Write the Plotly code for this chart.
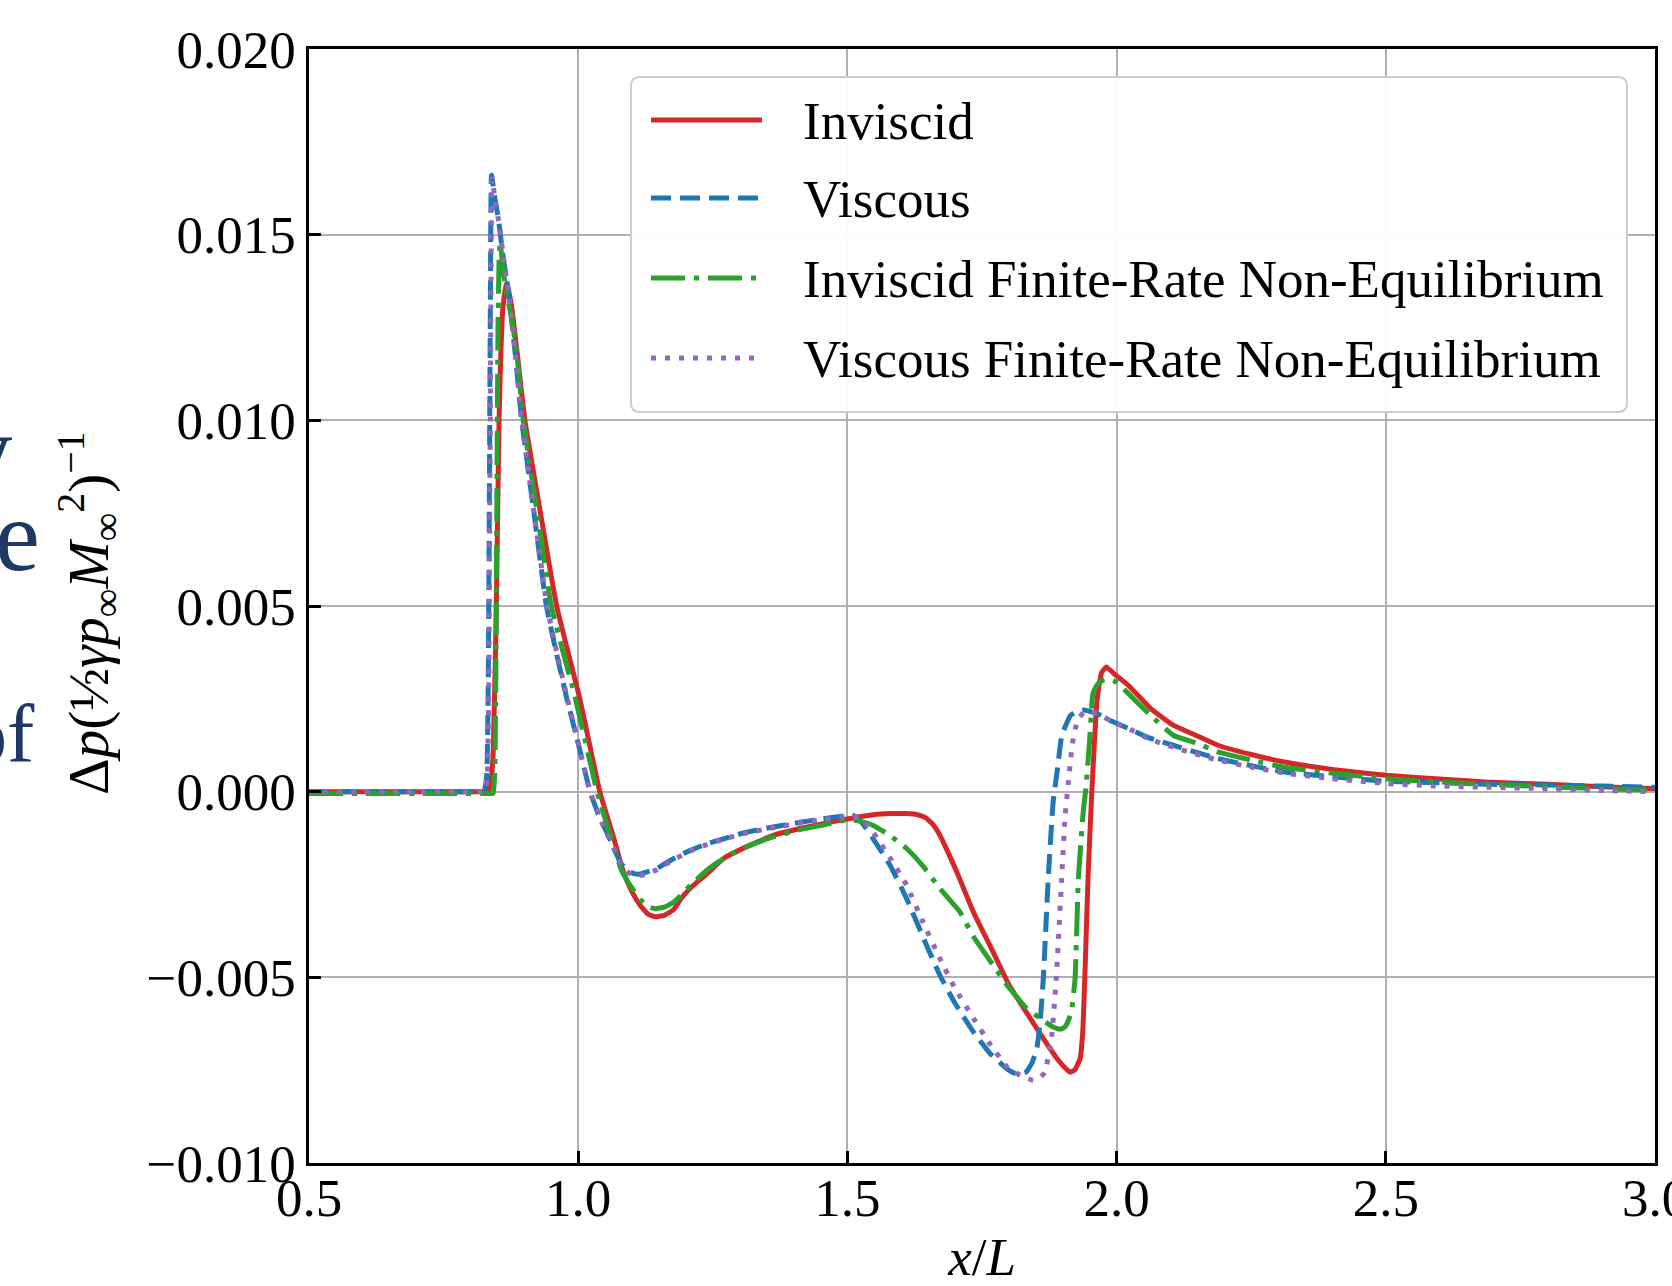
import plotly.graph_objects as go

# ---------------- data ----------------
x_inv = [0.50, 0.60, 0.70, 0.78, 0.82, 0.832, 0.838, 0.842, 0.848, 0.853, 0.860, 0.867, 0.876, 0.886, 0.901,
         0.93, 0.96, 1.003, 1.04, 1.065, 1.084, 1.100, 1.115, 1.130, 1.143, 1.160, 1.177, 1.19, 1.208, 1.24,
         1.27, 1.31, 1.362, 1.41, 1.455, 1.502, 1.548, 1.58, 1.61, 1.63, 1.645, 1.66, 1.672, 1.703, 1.734,
         1.77, 1.80, 1.835, 1.864, 1.89, 1.905, 1.913, 1.922, 1.932, 1.937, 1.941, 1.947, 1.954, 1.964,
         1.972, 1.981, 1.995, 2.022, 2.064, 2.105, 2.15, 2.188, 2.25, 2.312, 2.40, 2.5, 2.6, 2.686, 2.8,
         2.9, 3.0]
y_inv = [0.0, 0.0, 0.0, 0.0, 0.0, 0.0, 0.0003, 0.001, 0.005, 0.010, 0.0130, 0.0137, 0.0131, 0.0119, 0.0100,
         0.0075, 0.0050, 0.0025, 0.0, -0.0012, -0.00216, -0.0027, -0.00306, -0.0033, -0.00337, -0.00333,
         -0.00318, -0.0029, -0.0026, -0.0022, -0.0018, -0.0015, -0.00118, -0.0010, -0.00086, -0.00073,
         -0.00062, -0.00059, -0.00059, -0.00062, -0.0007, -0.0009, -0.00118, -0.00216, -0.00324, -0.0043,
         -0.0052, -0.0060, -0.00665, -0.0072, -0.00745, -0.00755, -0.0075, -0.0072, -0.0065, -0.0050,
         -0.0023, 0.0, 0.0025, 0.0032, 0.00336, 0.00318, 0.00286, 0.00223, 0.00179, 0.0015, 0.00125,
         0.0010, 0.0008, 0.0006, 0.00044, 0.00034, 0.00026, 0.0002, 0.00013, 0.00008]

x_visc = [0.50, 0.60, 0.70, 0.78, 0.815, 0.825, 0.830, 0.833, 0.835, 0.837, 0.839, 0.845, 0.852, 0.861,
          0.870, 0.883, 0.895, 0.918, 0.941, 0.96, 0.979, 1.0, 1.022, 1.04, 1.053, 1.066, 1.078, 1.090, 1.102,
          1.115, 1.13, 1.146, 1.175, 1.208, 1.24, 1.27, 1.31, 1.362, 1.41, 1.455, 1.49, 1.511, 1.525, 1.548,
          1.58, 1.61, 1.64, 1.672, 1.70, 1.734, 1.765, 1.796, 1.81, 1.821, 1.832, 1.843, 1.852, 1.858, 1.864,
          1.873, 1.882, 1.89, 1.898, 1.906, 1.914, 1.925, 1.94, 1.964, 1.99, 2.022, 2.06, 2.105, 2.15, 2.188,
          2.25, 2.312, 2.40, 2.5, 2.6, 2.686, 2.8, 2.9, 3.0]
y_visc = [0.0, 0.0, 0.0, 0.0, 0.0, 0.0, 0.0004, 0.003, 0.008, 0.0135, 0.0166, 0.0160, 0.0154, 0.01435,
          0.0135, 0.0118, 0.0100, 0.0075, 0.0050, 0.0037, 0.0025, 0.0013, 0.0, -0.0007, -0.00109, -0.0015,
          -0.0019, -0.0021, -0.0022, -0.00222, -0.00215, -0.00207, -0.00182, -0.00158, -0.0014, -0.00127,
          -0.0011, -0.00095, -0.00083, -0.00073, -0.00066, -0.00064, -0.0008, -0.00127, -0.0020, -0.00288,
          -0.0039, -0.00495, -0.0057, -0.00647, -0.00705, -0.00746, -0.00758, -0.0076, -0.00755, -0.0073,
          -0.0069, -0.0062, -0.0050, -0.00234, -0.0003, 0.0006, 0.0015, 0.0018, 0.00205, 0.00215, 0.0022,
          0.0021, 0.0019, 0.0017, 0.00145, 0.00125, 0.00105, 0.00089, 0.0007, 0.00053, 0.0004, 0.00028,
          0.00024, 0.0002, 0.00018, 0.00015, 0.00012]

x_ifr = [0.50, 0.60, 0.70, 0.78, 0.82, 0.836, 0.842, 0.845, 0.847, 0.849, 0.851, 0.853, 0.855, 0.860,
         0.867, 0.876, 0.886, 0.898, 0.925, 0.950, 0.995, 1.035, 1.06, 1.08, 1.10, 1.115, 1.13, 1.143, 1.16,
         1.177, 1.19, 1.208, 1.24, 1.27, 1.31, 1.362, 1.41, 1.455, 1.502, 1.525, 1.548, 1.579, 1.61, 1.64,
         1.672, 1.709, 1.734, 1.771, 1.796, 1.833, 1.858, 1.882, 1.895, 1.904, 1.912, 1.917, 1.923, 1.929,
         1.938, 1.943, 1.95, 1.956, 1.965, 1.975, 1.985, 2.0, 2.022, 2.06, 2.105, 2.15, 2.188, 2.25, 2.312,
         2.4, 2.5, 2.6, 2.686, 2.8, 2.9, 3.0]
y_ifr = [-0.00005, -0.00005, -0.00005, -0.00005, -0.00005, -0.00005, -0.00005, 0.0005, 0.003, 0.008,
         0.0125, 0.0143, 0.0148, 0.0141, 0.0134, 0.0128, 0.0118, 0.0100, 0.0074, 0.0050, 0.0025, 0.0,
         -0.0012, -0.0021, -0.0026, -0.0029, -0.0031, -0.00315, -0.00311, -0.00298, -0.0028, -0.00253,
         -0.0021, -0.0018, -0.0015, -0.00122, -0.00103, -0.0009, -0.00075, -0.0008, -0.00091, -0.00118,
         -0.00153, -0.0020, -0.00261, -0.00324, -0.0039, -0.00468, -0.0052, -0.00584, -0.0061, -0.00634,
         -0.0064, -0.00634, -0.0061, -0.00584, -0.0050, -0.00234, -0.00055, 0.0001, 0.0014, 0.00264, 0.0029,
         0.0030, 0.00304, 0.00295, 0.00264, 0.0021, 0.00152, 0.0013, 0.00107, 0.00085, 0.00066, 0.0005,
         0.00035, 0.00026, 0.0002, 0.00013, 0.00008, 0.00004]

x_vfr = [0.50, 0.60, 0.70, 0.78, 0.816, 0.826, 0.831, 0.834, 0.836, 0.838, 0.840, 0.846, 0.853, 0.862,
         0.871, 0.884, 0.896, 0.919, 0.942, 0.961, 0.980, 1.0, 1.022, 1.04, 1.053, 1.066, 1.078, 1.090, 1.102,
         1.115, 1.13, 1.146, 1.175, 1.208, 1.24, 1.27, 1.31, 1.362, 1.41, 1.455, 1.49, 1.511, 1.525, 1.548,
         1.58, 1.61, 1.64, 1.672, 1.70, 1.734, 1.765, 1.796, 1.821, 1.845, 1.858, 1.867, 1.879, 1.888, 1.898,
         1.904, 1.910, 1.918, 1.927, 1.94, 1.964, 1.99, 2.022, 2.06, 2.105, 2.15, 2.188, 2.25, 2.312, 2.4,
         2.5, 2.6, 2.686, 2.8, 2.9, 3.0]
y_vfr = [0.0, 0.0, 0.0, 0.0, 0.0, 0.0, 0.0004, 0.003, 0.008, 0.0135, 0.0165, 0.0159, 0.0153, 0.0143, 0.0134,
         0.0117, 0.0099, 0.0074, 0.0050, 0.0037, 0.0025, 0.0013, 0.0, -0.0007, -0.00112, -0.00153, -0.00193,
         -0.00215, -0.00225, -0.00226, -0.0022, -0.0021, -0.00185, -0.0016, -0.00142, -0.00128, -0.00112,
         -0.00097, -0.00085, -0.00075, -0.00068, -0.00066, -0.0007, -0.0011, -0.0018, -0.00252, -0.0035,
         -0.0045, -0.0053, -0.0061, -0.0068, -0.0074, -0.00764, -0.00777, -0.0077, -0.00755, -0.00665,
         -0.0050, -0.00234, -0.00073, 0.0002, 0.0013, 0.0019, 0.00215, 0.0021, 0.0019, 0.0017, 0.00142,
         0.0012, 0.0010, 0.00085, 0.00066, 0.0005, 0.00035, 0.00022, 0.00015, 0.00012, 0.00008, 0.00003, 0.0]

series_names = ["Inviscid", "Viscous", "Inviscid Finite-Rate Non-Equilibrium",
                "Viscous Finite-Rate Non-Equilibrium"]
x_ticks = [0.5, 1.0, 1.5, 2.0, 2.5, 3.0]
y_ticks = [-0.010, -0.005, 0.000, 0.005, 0.010, 0.015, 0.020]

# ---------------- styling ----------------
colors = ["#d62728", "#1f77b4", "#2ca02c", "#9467bd"]
dashes = ["solid", "20px,9px", "34px,9px,5px,9px", "5px,9px"]
LW = 5
FONT = "Liberation Serif"
FS = 53

W, H = 1672, 1286
L, R, T, B = 309, 1655, 49, 1163


def px_x(px):
    return (px - L) / (R - L)


def px_y(py):
    return (B - py) / (B - T)


fig = go.Figure()
series = [(x_inv, y_inv), (x_visc, y_visc), (x_ifr, y_ifr), (x_vfr, y_vfr)]
for (xs, ys), name, c, d in zip(series, series_names, colors, dashes):
    fig.add_trace(go.Scatter(x=xs, y=ys, mode="lines", name=name, showlegend=False,
                             line=dict(color=c, width=LW, dash=d, shape="spline", smoothing=0.4)))

axis_common = dict(showline=True, linecolor="black", linewidth=2.5, mirror=True,
                   ticks="inside", ticklen=12, tickwidth=2.5, tickcolor="black",
                   showgrid=True, gridcolor="#b0b0b0", gridwidth=2, zeroline=False,
                   ticklabeloverflow="allow", automargin=False,
                   tickfont=dict(family=FONT, size=FS, color="black"))

fig.update_xaxes(range=[0.5, 3.0], tickvals=x_ticks, tickformat=".1f",
                 title=dict(text="<i>x</i>/<i>L</i>", font=dict(family=FONT, size=FS, color="black"),
                            standoff=34),
                 ticklabelstandoff=-13, **axis_common)
fig.update_yaxes(range=[-0.010, 0.020], tickvals=y_ticks, tickformat=".3f",
                 ticklabelstandoff=0, **axis_common)

shapes = []
annotations = []

# legend box with rounded corners
bx0, bx1, by0, by1, r = 631, 1627, 77, 412, 9
pts = [
    ("M", bx0 + r, by0), ("L", bx1 - r, by0), ("Q", bx1, by0, bx1, by0 + r),
    ("L", bx1, by1 - r), ("Q", bx1, by1, bx1 - r, by1), ("L", bx0 + r, by1),
    ("Q", bx0, by1, bx0, by1 - r), ("L", bx0, by0 + r), ("Q", bx0, by0, bx0 + r, by0),
]
path = ""
for p in pts:
    cmd = p[0]
    coords = p[1:]
    parts = []
    for i in range(0, len(coords), 2):
        parts.append(f"{px_x(coords[i]):.5f},{px_y(coords[i + 1]):.5f}")
    path += cmd + " " + " ".join(parts) + " "
path += "Z"
shapes.append(dict(type="path", path=path, xref="paper", yref="paper", layer="above",
                   line=dict(color="#cccccc", width=2), fillcolor="rgba(255,255,255,0.95)"))

row_y = [120, 198, 278, 358]
for name, c, d, ry in zip(series_names, colors, dashes, row_y):
    shapes.append(dict(type="line", xref="paper", yref="paper", layer="above",
                       x0=px_x(651), x1=px_x(762), y0=px_y(ry), y1=px_y(ry),
                       line=dict(color=c, width=LW, dash=d)))
    annotations.append(dict(text=name, xref="paper", yref="paper", x=px_x(801), y=px_y(ry + 1),
                            xanchor="left", yanchor="middle", showarrow=False,
                            font=dict(family=FONT, size=FS, color="black")))

# y-axis title
annotations.append(dict(
    text="Δ<i>p</i>(½<i>γp</i><sub>∞</sub><i>M</i><sub>∞</sub><sup>2</sup>)<sup>−1</sup>",
    xref="paper", yref="paper", x=px_x(88), y=px_y(613), xanchor="center", yanchor="middle",
    textangle=-90, showarrow=False, font=dict(family=FONT, size=57, color="black")))

# fragments of surrounding slide text cut at the left edge
navy = "#1f3864"
annotations.append(dict(text="y", xref="paper", yref="paper", x=px_x(15), y=px_y(450),
                        xanchor="right", yanchor="middle", showarrow=False,
                        font=dict(family=FONT, size=105, color=navy)))
annotations.append(dict(text="e", xref="paper", yref="paper", x=px_x(42), y=px_y(536),
                        xanchor="right", yanchor="middle", showarrow=False,
                        font=dict(family=FONT, size=101, color=navy)))
annotations.append(dict(text="of", xref="paper", yref="paper", x=px_x(37), y=px_y(734),
                        xanchor="right", yanchor="middle", showarrow=False,
                        font=dict(family=FONT, size=82, color=navy)))

fig.update_layout(width=W, height=H, margin=dict(l=L, r=W - R, t=T, b=H - B),
                  paper_bgcolor="white", plot_bgcolor="white", showlegend=False,
                  shapes=shapes, annotations=annotations)

fig.write_html("out.html")
